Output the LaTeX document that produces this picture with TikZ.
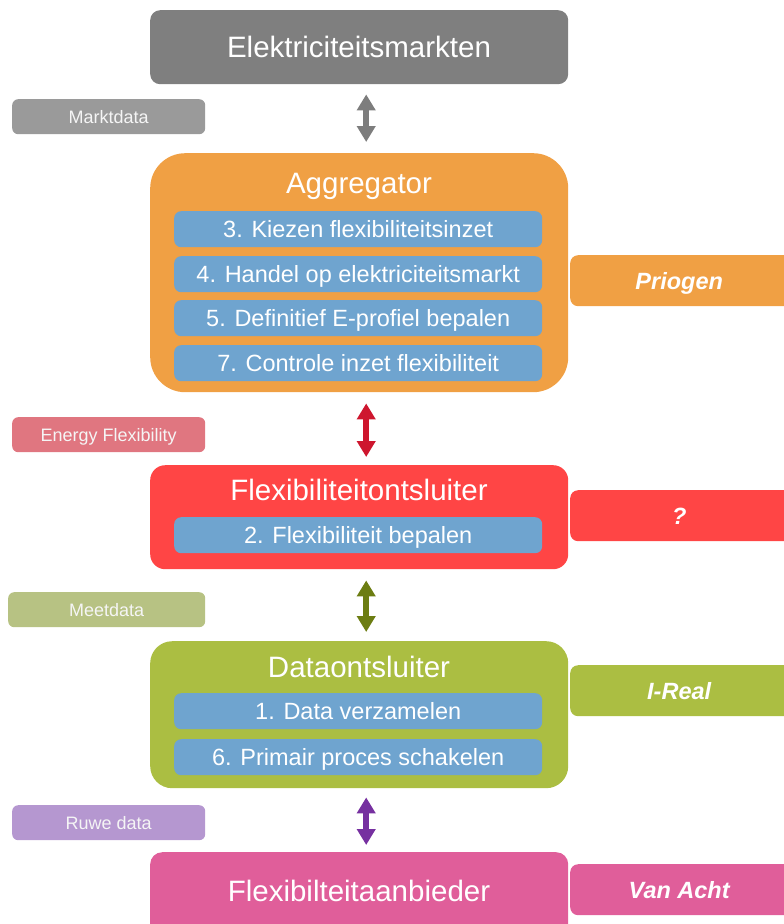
\documentclass[tikz,border=0pt]{standalone}
\usepackage{fontspec}
\setmainfont{Liberation Sans}
\usetikzlibrary{calc,arrows.meta}

\definecolor{mktgray}{HTML}{7F7F7F}
\definecolor{lblgray}{HTML}{9A9A9A}
\definecolor{dblgray}{HTML}{7D7D7D}
\definecolor{aggorange}{HTML}{F0A044}
\definecolor{stepblue}{HTML}{6FA4CF}
\definecolor{lblrose}{HTML}{E07680}
\definecolor{dblred}{HTML}{CE162E}
\definecolor{flexred}{HTML}{FF4545}
\definecolor{lblolive}{HTML}{B7C283}
\definecolor{dblolive}{HTML}{6C7D12}
\definecolor{dataolive}{HTML}{ABBE42}
\definecolor{lblpurple}{HTML}{B597D0}
\definecolor{dblpurple}{HTML}{7630A0}
\definecolor{offpink}{HTML}{E05E9A}

\tikzset{
  rolebox/.style={draw=none, rectangle, inner sep=0pt, anchor=north west},
  roletitle/.style={text=white, font=\fontsize{29.5}{31}\selectfont, anchor=base, inner sep=0pt},
  stepbar/.style={fill=stepblue, rounded corners=7pt, minimum width=368pt, minimum height=36pt,
    inner sep=0pt, anchor=north west, text=white, font=\fontsize{23.5}{25}\selectfont,
    text height=16.5pt, text depth=0pt},
  flowlabel/.style={rounded corners=6pt, minimum height=35pt, inner sep=0pt, anchor=north west,
    text=white!96!black, font=\fontsize{18}{20}\selectfont, text height=12.8pt, text depth=0pt},
  partytag/.style={rounded corners=8pt, minimum width=230pt, minimum height=51pt, inner sep=0pt,
    anchor=north west, text=white, font=\fontsize{23.5}{25}\selectfont\bfseries\itshape,
    text height=17pt, text depth=0pt},
  dblarrow/.style={line width=6pt,
    {Triangle[width=18pt,length=16pt]}-{Triangle[width=18pt,length=16pt]}},
}

\begin{document}
\begin{tikzpicture}[x=1pt, y=-1pt]
\useasboundingbox (0,0) rectangle (784,924);
\clip (0,0) rectangle (784,924);

% role boxes
\node[rolebox, fill=mktgray, rounded corners=10pt, minimum width=418pt, minimum height=74pt]
  (markt) at (150,10) {};
\node[rolebox, fill=aggorange, rounded corners=35pt, minimum width=418pt, minimum height=239pt]
  (agg) at (150,153) {};
\node[rolebox, fill=flexred, rounded corners=15pt, minimum width=418pt, minimum height=104pt]
  (flex) at (150,465) {};
\node[rolebox, fill=dataolive, rounded corners=22pt, minimum width=418pt, minimum height=147pt]
  (data) at (150,641) {};
\node[rolebox, fill=offpink, rounded corners=12pt, minimum width=418pt, minimum height=84pt]
  (aanb) at (150,852) {};

% titles
\node[roletitle] (tmarkt) at (359,57) {Elektriciteitsmarkten};
\node[roletitle] (tagg) at (359,193) {Aggregator};
\node[roletitle] (tflex) at (359,500) {Flexibiliteitontsluiter};
\node[roletitle] (tdata) at (359,677) {Dataontsluiter};
\node[roletitle] (taanb) at (359,901) {Flexibilteitaanbieder};

% process steps
\node[stepbar] (s3) at (174,211) {3. Kiezen flexibiliteitsinzet};
\node[stepbar] (s4) at (174,256) {4. Handel op elektriciteitsmarkt};
\node[stepbar] (s5) at (174,300) {5. Definitief E-profiel bepalen};
\node[stepbar] (s7) at (174,345) {7. Controle inzet flexibiliteit};
\node[stepbar] (s2) at (174,517) {2. Flexibiliteit bepalen};
\node[stepbar] (s1) at (174,693) {1. Data verzamelen};
\node[stepbar] (s6) at (174,739) {6. Primair proces schakelen};

% data flow labels
\node[flowlabel, fill=lblgray, minimum width=193pt] (lmarkt) at (12,99) {Marktdata};
\node[flowlabel, fill=lblrose, minimum width=193pt] (lenergy) at (12,417) {Energy Flexibility};
\node[flowlabel, fill=lblolive, minimum width=197pt] (lmeet) at (8,592) {Meetdata};
\node[flowlabel, fill=lblpurple, minimum width=193pt] (lruw) at (12,805) {Ruwe data};

% parties
\node[partytag, fill=aggorange] (ppriogen) at (570,255) {\hspace*{-12pt}Priogen};
\node[partytag, fill=flexred] (pquest) at (570,490) {\hspace*{-12pt}?};
\node[partytag, fill=dataolive] (preal) at (570,665) {\hspace*{-12pt}I-Real};
\node[partytag, fill=offpink] (pvan) at (570,864) {\hspace*{-12pt}Van Acht};

% exchange arrows between the roles
\foreach \a/\b/\c/\gt/\gb in {markt/agg/dblgray/10/11, agg/flex/dblred/11/8,
                              flex/data/dblolive/11/9, data/aanb/dblpurple/9/7} {
  \draw[dblarrow, draw=\c, fill=\c]
    ($(\a.south)+(7,\gt)$) -- ($(\b.north)+(7,-\gb)$);
}
\end{tikzpicture}
\end{document}
